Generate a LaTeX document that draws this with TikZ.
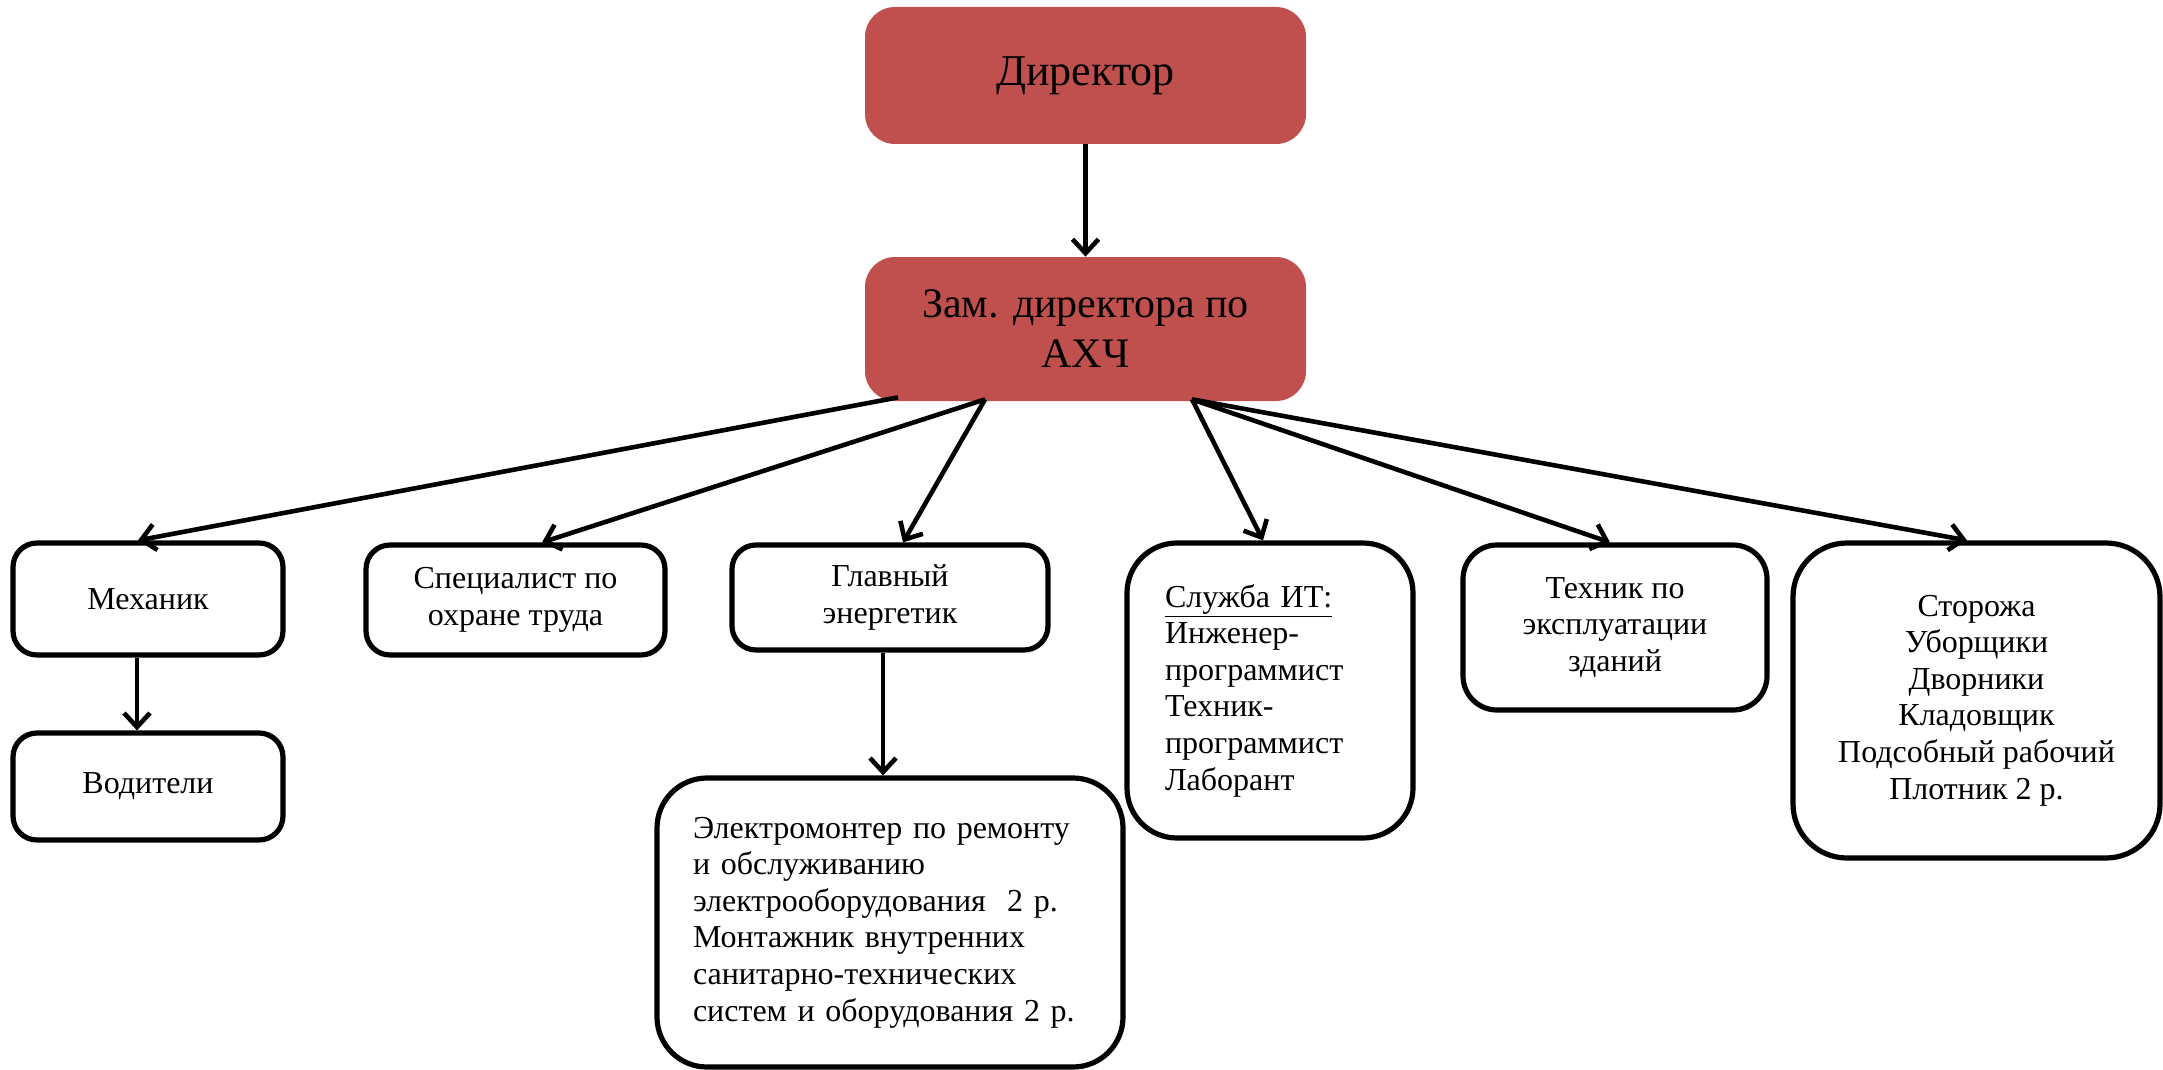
\documentclass[tikz,border=0pt]{standalone}
\usepackage{fontspec}
\setmainfont{Liberation Serif}
\usetikzlibrary{arrows.meta,calc}
\definecolor{boxred}{HTML}{C0504D}
\begin{document}
\begin{tikzpicture}[x=0.5pt,y=-0.5pt,
  redbox/.style={rectangle, rounded corners=15pt, fill=boxred, draw=none,
    font=\fontsize{22}{25}\selectfont, align=center, inner sep=0pt},
  wbox/.style={rectangle, draw=black, line width=2.6pt, fill=white,
    font=\fontsize{16}{18.3}\selectfont, align=center, inner sep=0pt},
  conn/.style={line width=2.3pt, -{Straight Barb[length=7pt,width=13pt]}}]
\useasboundingbox (0,0) rectangle (2163,1070);

\node[redbox, minimum width=220.5pt, minimum height=68.5pt] (dir) at (1085.5,75.5) {Директор};
\node[redbox, minimum width=220.5pt, minimum height=72pt, font=\fontsize{21}{25}\selectfont] (zam) at (1085.5,329) {Зам. директора по\\АХЧ};

\node[wbox, rounded corners=12pt, minimum width=135pt, minimum height=56pt] (meh) at (148,599) {Механик};
\node[wbox, rounded corners=12pt, minimum width=135pt, minimum height=53.5pt] (vod) at (148,786.5) {Водители};
\node[wbox, rounded corners=12pt, minimum width=149.5pt, minimum height=55pt] (spec) at (515.5,600) {Специалист по\\охране труда};
\node[wbox, rounded corners=12pt, minimum width=158pt, minimum height=52.5pt] (eng) at (890,597.5) {Главный\\энергетик};
\node[wbox, rounded corners=25pt, minimum height=144.5pt, inner xsep=18pt, text width=197pt, align=left] (elec) at (890,922.5)
  {Электромонтер по ремонту\\и обслуживанию\\электрооборудования\ \ 2 р.\\Монтажник внутренних\\санитарно-технических\\систем и оборудования 2 р.};
\node[wbox, rounded corners=25pt, minimum height=147.5pt, inner xsep=19pt, text width=105pt, align=left] (it) at (1270,690.5)
  {\underline{Служба ИТ:}\\Инженер-\\программист\\Техник-\\программист\\Лаборант};
\node[wbox, rounded corners=17pt, minimum width=152pt, minimum height=82.5pt] (tech) at (1615,627.5) {Техник по\\эксплуатации\\зданий};
\node[wbox, rounded corners=27pt, minimum width=183.5pt, minimum height=157.5pt] (stor) at (1976.5,700.5)
  {Сторожа\\Уборщики\\Дворники\\Кладовщик\\Подсобный рабочий\\Плотник 2 р.};

\draw[conn] (dir) -- (zam);
\draw[conn] ($(zam.south)+(-187.5,-4)$) -- ($(meh.north)+(-10,0)$);
\draw[conn] ($(zam.south)+(-100.5,-2)$) -- ($(spec.north)+(26.5,0)$);
\draw[conn] ($(zam.south)+(-100.5,-2)$) -- ($(eng.north)+(13,0)$);
\draw[conn] ($(zam.south)+(106.5,-2)$) -- ($(it.north)+(-7,0)$);
\draw[conn] ($(zam.south)+(106.5,-2)$) -- ($(tech.north)+(-5,0)$);
\draw[conn] ($(zam.south)+(106.5,-2)$) -- ($(stor.north)+(-9.5,0)$);
\draw[conn] ($(meh.south)+(-11,0)$) -- ($(vod.north)+(-11,0)$);
\draw[conn] ($(eng.south)+(-7,0)$) -- ($(elec.north)+(-7,0)$);
\end{tikzpicture}
\end{document}
